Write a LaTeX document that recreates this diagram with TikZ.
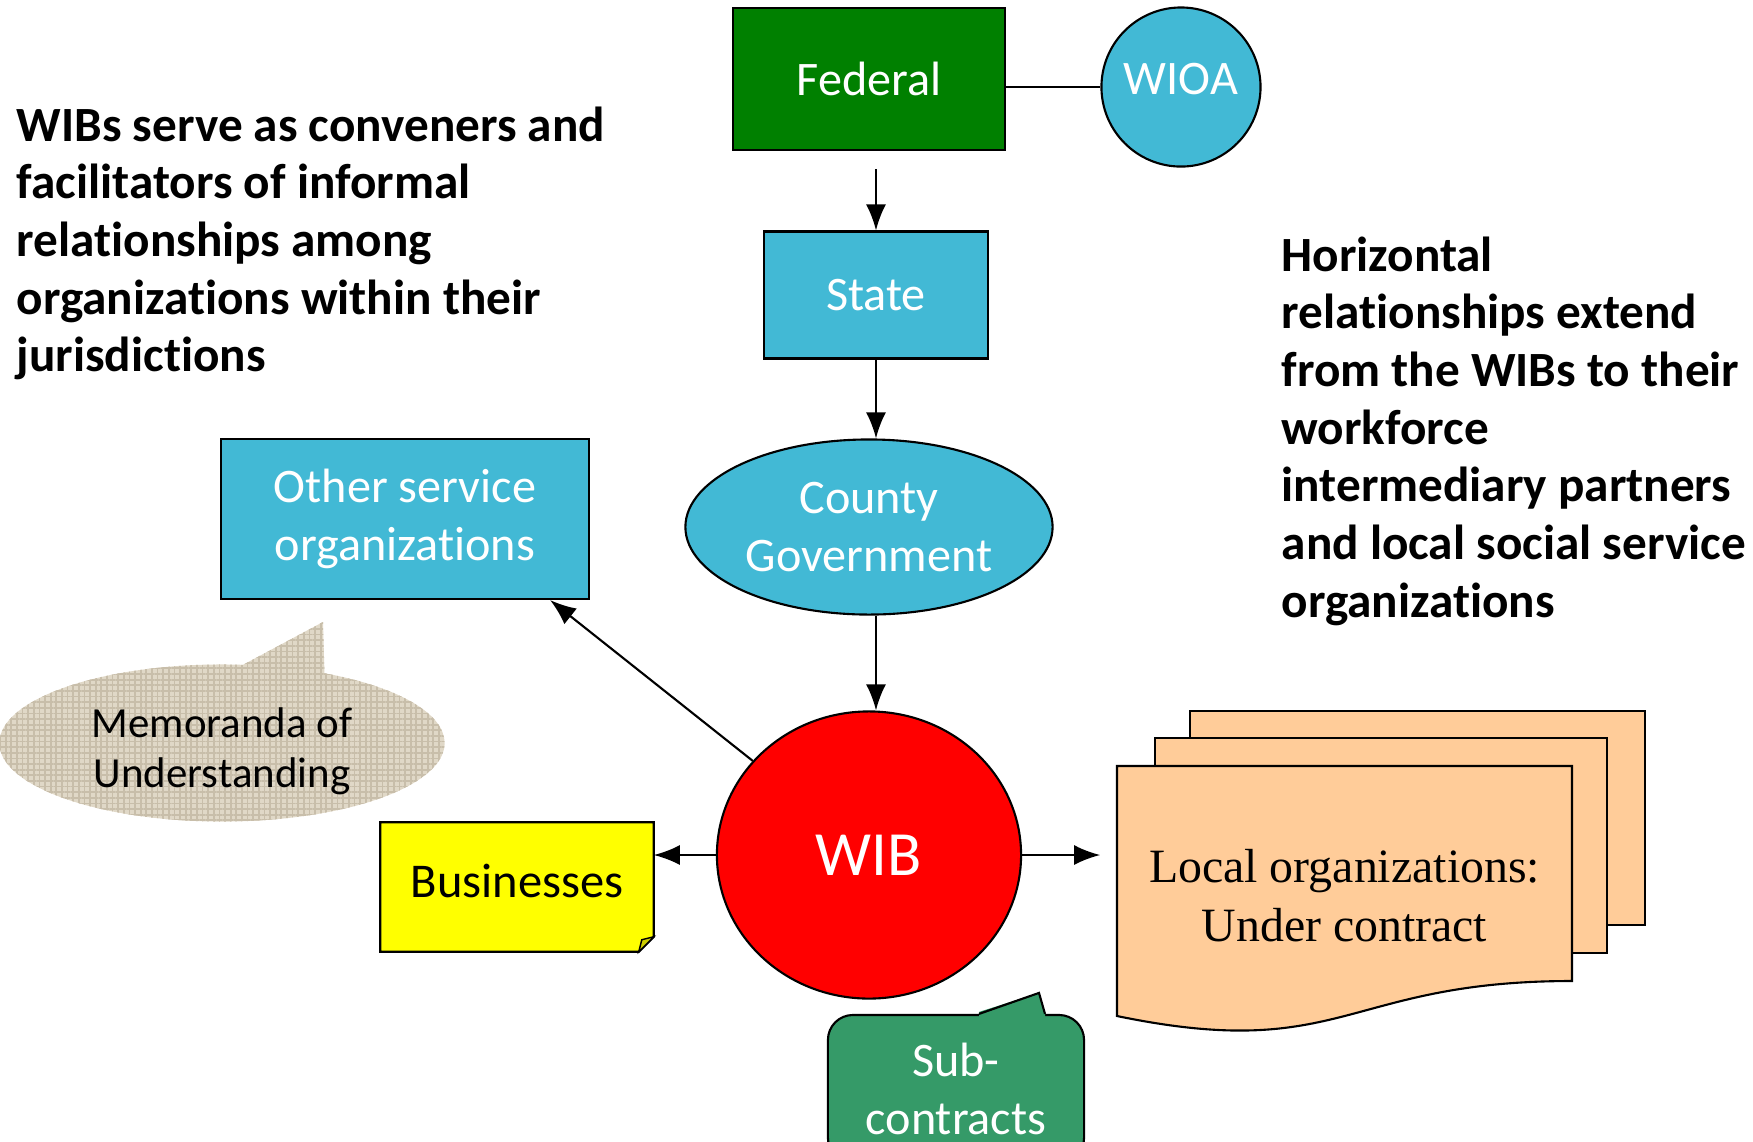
\documentclass[tikz,border=0pt]{standalone}
\usepackage{fontspec}
\setmainfont{Carlito}[Ligatures=NoCommon]
\newfontfamily\serifbox{Liberation Serif}
\usetikzlibrary{arrows.meta,shapes.geometric,shapes.callouts,backgrounds,calc,patterns.meta}

\definecolor{fedgreen}{RGB}{0,128,0}
\definecolor{skyblue}{RGB}{66,185,213}
\definecolor{wibred}{RGB}{255,0,0}
\definecolor{busyellow}{RGB}{255,255,0}
\definecolor{foldyellow}{RGB}{204,204,0}
\definecolor{peach}{RGB}{255,204,153}
\definecolor{subgreen}{RGB}{53,154,104}
\definecolor{canvas}{RGB}{224,216,199}
\definecolor{canvasdark}{RGB}{200,190,170}

\tikzset{
  box/.style={draw, line width=0.6pt, inner sep=0pt, align=center},
  lvl/.style={box, rectangle, fill=skyblue, text=white, font=\fontsize{13.7}{16.5}\selectfont},
  link/.style={line width=0.6pt, -{Latex[length=2.6mm,width=2mm]}},
  note/.style={anchor=north west, align=left, inner sep=0pt, font=\bfseries\fontsize{14}{16.4}\selectfont},
}

\begin{document}
\begin{tikzpicture}[x=0.01cm,y=-0.01cm]
	\useasboundingbox (0,0) rectangle (1753,1141);
	\clip (0,0) rectangle (1753,1141);

	% chain of government levels
	\node[lvl, fill=fedgreen, minimum width=27.1mm, minimum height=14.2mm] (fed) at (869,79) {Federal};
	\node[lvl, circle, minimum size=15.9mm] (wioa) at (1181,87) {\raisebox{1.6mm}{WIOA}};
	\node[lvl, minimum width=22.3mm, minimum height=12.7mm] (state) at (876,295) {State};
	\node[lvl, ellipse, minimum width=36.7mm, minimum height=17.5mm] (county) at (869,527) {County\\Government};
	\node[box, ellipse, fill=wibred, text=white, minimum width=30.4mm, minimum height=28.7mm,
		font=\fontsize{17.9}{20}\selectfont] (wib) at (869,855) {WIB};

	\node[lvl, minimum width=36.8mm, minimum height=16mm] (other) at (405,519) {Other service\\organizations};
	\node[align=center, inner sep=0pt, minimum width=27.2mm, minimum height=12.8mm,
		font=\fontsize{13.8}{16}\selectfont] (bus) at (517,887) {\raisebox{1.2mm}{Businesses}};
	\node[align=center, inner sep=0pt, minimum width=45.5mm, minimum height=25mm,
		font=\serifbox\fontsize{13.6}{16.8}\selectfont] (local) at (1344.5,896) {Local organizations:\\Under contract};

	\node[ellipse callout, fill=canvas,
		postaction={pattern={Lines[angle=0,distance=1.6pt,line width=0.5pt]}, pattern color=canvasdark},
		postaction={pattern={Lines[angle=90,distance=1.6pt,line width=0.5pt]}, pattern color=canvasdark},
		minimum width=44.5mm, minimum height=15.7mm, inner sep=0pt, align=center,
		callout absolute pointer={(323,622)}, callout pointer arc=22,
		font=\fontsize{12.2}{14.2}\selectfont] (mou) at (222,743) {\rule{0pt}{4.7mm}Memoranda of\\Understanding};

	\node[box, rounded corners=2.5mm, fill=subgreen, text=white, minimum width=25.6mm, minimum height=14.8mm,
		font=\fontsize{13.7}{16.5}\selectfont] (sub) at (956,1089) {Sub-\\contracts};
	\fill[subgreen] ($(sub.north)+(23,-2)$) -- ($(sub.north)+(83,-21)$) -- ($(sub.north)+(89,-2)$)
		-- ($(sub.north)+(89,3)$) -- ($(sub.north)+(23,3)$) -- cycle;
	\draw[line width=0.6pt] ($(sub.north)+(23,0)$) -- ($(sub.north)+(83,-21)$) -- ($(sub.north)+(89,0)$);

	\begin{scope}[on background layer]
		\filldraw[fill=busyellow, line width=0.6pt] (bus.north west) -- (bus.north east)
			-- ($(bus.south east)+(0,-15)$) -- ($(bus.south east)+(-15,0)$) -- (bus.south west) -- cycle;
		\filldraw[fill=foldyellow, line width=0.4pt] ($(bus.south east)+(0,-15)$)
			-- ($(bus.south east)+(-12,-12)$) -- ($(bus.south east)+(-15,0)$) -- cycle;

		% stacked documents
		\filldraw[fill=peach, line width=0.6pt] (1190,711) rectangle (1645,925);
		\filldraw[fill=peach, line width=0.6pt] (1155,738) rectangle (1607,953);
		\filldraw[fill=peach, line width=0.6pt] (1117,766) -- (1572,766) -- (1572,981)
			.. controls (1344,981) and (1344,1063) .. (1117,1016) -- cycle;
	\end{scope}

	\draw[line width=0.6pt] (fed.east |- wioa) -- (wioa);
	\draw[link] ($(fed.south -| state)+(0,18)$) -- (state);
	\draw[link] (state.south) -- (state.south |- county.north);
	\draw[link] (county.south -| state) -- (wib.north -| state);
	\draw[link] (wib.west) -- (wib.west -| bus.east);
	\draw[link] (wib.east) -- ($(wib.east -| local.west)+(-16,0)$);
	\draw[link] (wib.141) -- ($(other.south east)+(-40,0)$);

	\node[note] (wibtxt) at (16,106) {WIBs serve as conveners and\\facilitators of informal\\relationships among\\organizations within their\\jurisdictions};
	\node[note] (horiz) at (1281,236) {Horizontal\\relationships extend\\from the WIBs to their\\workforce\\intermediary partners\\and local social service\\organizations};
\end{tikzpicture}
\end{document}
